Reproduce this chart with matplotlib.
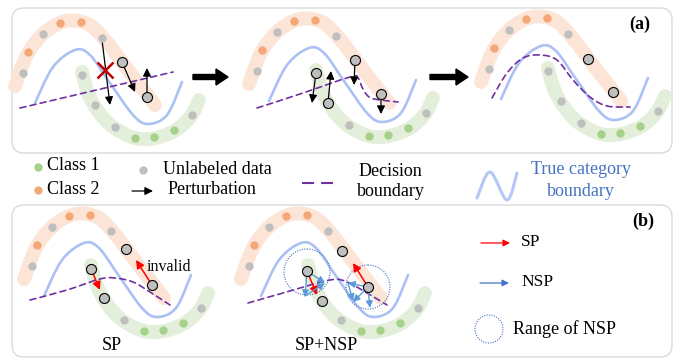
import numpy as np
import matplotlib
matplotlib.use("Agg")
import matplotlib.pyplot as plt
from matplotlib.path import Path
from matplotlib.patches import PathPatch, FancyBboxPatch, FancyArrow, Circle

plt.rcParams['font.family'] = ['Liberation Serif', 'DejaVu Serif']

# --- template shape (pixel coords of the first sub-diagram) ---
orange_band = [(15, 86), (27, 55), (44, 33), (66, 21), (88, 24), (105, 40), (128, 70), (155, 105)]
green_band = [(82, 72), (88, 93), (98, 111), (113, 127), (135, 138), (155, 138), (176, 130), (191, 116), (199, 100)]
true_boundary = [(35, 103), (53, 67), (75, 50), (90, 55), (110, 83), (133, 115), (148, 124), (167, 115), (182, 82)]
class1_dots = [(135, 138), (154, 137), (174, 130)]
class2_dots = [(28, 52), (60, 23), (81, 22)]
unlabeled_dots = [(43, 34), (23, 73), (102, 38), (115, 127), (192, 115)]

# offsets of each sub-diagram: a1, a2, a3, b1, b2
offsets = {'a1': (0, 0), 'a2': (234, -2), 'a3': (466, -4), 'b1': (9, 193), 'b2': (226, 193)}

# decision boundary of each sub-diagram
decision = {
    'a1': [(20, 108), (173, 72)],
    'a2': [(257, 108), (300, 94), (350, 77), (358, 78), (362, 87), (367, 95), (374, 99), (398, 102)],
    'a3': [(492, 98), (507, 73), (523, 58), (540, 55), (557, 60), (573, 80), (590, 97), (607, 106), (630, 107)],
    'b1': [(30, 300), (67, 290), (100, 279), (115, 278), (133, 282), (150, 292), (170, 305)],
    'b2': [(248, 303), (283, 293), (330, 280), (347, 282), (367, 293), (387, 305)],
}
# extra plain unlabeled points (absolute)
extra_gray = {'a1': [(82, 75), (95, 105)], 'a3': [(548, 71), (561, 101)]}
# highlighted unlabeled points (absolute)
highlighted = {
    'a1': [(122, 62), (147, 97)],
    'a2': [(316, 73), (328, 103), (355, 60), (381, 94)],
    'a3': [(588, 59), (613, 92)],
    'b1': [(126, 249), (152, 285), (91, 269), (104, 298)],
    'b2': [(342, 251), (368, 287), (307, 271), (322, 301)],
}
# perturbation arrows (start, end)
perturb_arrows = [((102, 40), (110, 105)), ((122, 62), (135, 92)), ((147, 97), (147, 68)),
                  ((316, 73), (312, 103)), ((328, 103), (331, 71)), ((355, 60), (354, 85)),
                  ((381, 94), (381, 114))]
sp_arrows = [((91, 269), (100, 290)), ((152, 285), (136, 260)),
             ((307, 271), (317, 295)), ((368, 287), (353, 263))]
nsp_arrows = [((307, 271), (325, 283)), ((307, 271), (305, 297)), ((305, 296), (325, 283)),
              ((368, 287), (348, 283)), ((368, 287), (353, 302)), ((368, 287), (370, 308)),
              ((348, 283), (353, 301))]
nsp_ranges = [((307, 272), 23), ((368, 287), 22)]
big_arrows = [((193, 77), (228, 77)), ((430, 77), (468, 77))]

ORANGE = '#f4a878'
GREEN = '#a5d18a'
GRAY = '#bfbfbf'
BAND_O = '#fce4d6'
BAND_G = '#e3efda'
BLUE_C = '#abc1f5'
PURPLE = '#7030a0'
NSP_BLUE = '#5b9bd5'
TXT_BLUE = '#4472c4'


def smooth(points):
    p = np.asarray(points, float)
    if len(p) == 2:
        return Path(p, [Path.MOVETO, Path.LINETO])
    ext = np.vstack([p[0], p, p[-1]])
    verts = [p[0]]
    codes = [Path.MOVETO]
    for i in range(1, len(ext) - 2):
        p0, p1, p2, p3 = ext[i - 1], ext[i], ext[i + 1], ext[i + 2]
        verts += [p1 + (p2 - p0) / 6, p2 - (p3 - p1) / 6, p2]
        codes += [Path.CURVE4] * 3
    return Path(verts, codes)


def shifted(points, off):
    return [(x + off[0], y + off[1]) for x, y in points]


def curve(ax, pts, **kw):
    patch = PathPatch(smooth(pts), fill=False, **kw)
    patch.set_capstyle('round')
    patch.set_joinstyle('round')
    ax.add_patch(patch)


def arrow(ax, start, end, color='black', lw=0.9, ms=12, z=5):
    ax.annotate('', xy=end, xytext=start,
                arrowprops=dict(arrowstyle='-|>', color=color, lw=lw, mutation_scale=ms,
                                shrinkA=0, shrinkB=0), zorder=z)


def dots(ax, pts, color, s=36, **kw):
    if not pts:
        return
    xy = np.array(pts)
    ax.scatter(xy[:, 0], xy[:, 1], s=s, c=color, linewidths=0, zorder=6, **kw)


fig = plt.figure(figsize=(6.76, 3.58), dpi=100)
ax = fig.add_axes([0, 0, 1, 1])
ax.set_xlim(0, 676)
ax.set_ylim(358, 0)
ax.axis('off')

# panel boxes
for (x0, y0, w, h) in [(12, 8, 660, 145), (12, 205, 660, 152)]:
    ax.add_patch(FancyBboxPatch((x0, y0), w, h, boxstyle='round,pad=0,rounding_size=12',
                                fc='white', ec='#dadada', lw=1, zorder=0))

for key, off in offsets.items():
    curve(ax, shifted(orange_band, off), color=BAND_O, lw=10, zorder=1)
    curve(ax, shifted(green_band, off), color=BAND_G, lw=10, zorder=1)
    curve(ax, shifted(true_boundary, off), color=BLUE_C, lw=1.9, zorder=2)
    curve(ax, decision[key], color=PURPLE, lw=1.2, linestyle=(0, (3.6, 2.6)), zorder=3)
    dots(ax, shifted(class1_dots, off), GREEN)
    dots(ax, shifted(class2_dots, off), ORANGE)
    dots(ax, shifted(unlabeled_dots, off) + extra_gray.get(key, []), GRAY)
    hx = np.array(highlighted[key])
    ax.scatter(hx[:, 0], hx[:, 1], s=52, c=GRAY, edgecolors='black', linewidths=0.8, zorder=7)

for s, e in perturb_arrows:
    arrow(ax, s, e)
for s, e in sp_arrows:
    arrow(ax, s, e, color='red', lw=1.1)
for s, e in nsp_arrows:
    arrow(ax, s, e, color=NSP_BLUE, lw=1.0, ms=10)
for c, r in nsp_ranges:
    ax.add_patch(Circle(c, r, fill=False, ec=TXT_BLUE, lw=0.8, ls=(0, (1, 1.2)), zorder=4))
for s, e in big_arrows:
    ax.add_patch(FancyArrow(s[0], s[1], e[0] - s[0], e[1] - s[1], width=5, head_width=16,
                            head_length=12, length_includes_head=True, color='black', zorder=5))

# red cross (invalid perturbation)
ax.plot([105], [70], marker='x', ms=11, mew=1.8, color='#c00000', zorder=8)

# texts
fs = 13
ax.text(640, 24, '(a)', fontsize=fs, fontweight='bold', ha='center', va='center')
ax.text(643, 221, '(b)', fontsize=fs, fontweight='bold', ha='center', va='center')
ax.text(147, 267, 'invalid', fontsize=11.5, ha='left', va='center')
ax.text(112, 346, 'SP', fontsize=fs, ha='center', va='center')
ax.text(326, 346, 'SP+NSP', fontsize=fs, ha='center', va='center')

# legend row
dots(ax, [(38, 167)], GREEN)
dots(ax, [(38, 190)], ORANGE)
dots(ax, [(143, 170)], GRAY)
ax.text(47, 166, 'Class 1', fontsize=fs, va='center')
ax.text(47, 189, 'Class 2', fontsize=fs, va='center')
ax.text(163, 169, 'Unlabeled data', fontsize=fs, va='center')
arrow(ax, (132, 191), (153, 191))
ax.text(168, 190, 'Perturbation', fontsize=fs, va='center')
ax.plot([302, 333], [183, 183], color=PURPLE, lw=1.5, dashes=(5.8, 3.4))
ax.text(390, 171, 'Decision', fontsize=fs, ha='center', va='center')
ax.text(391, 192, 'boundary', fontsize=fs, ha='center', va='center')
curve(ax, [(477, 198), (490, 172), (507, 200), (517, 173)], color='#b4c8f7', lw=2.2, zorder=2)
ax.text(581, 170, 'True category', fontsize=fs, ha='center', va='center', color=TXT_BLUE)
ax.text(581, 192, 'boundary', fontsize=fs, ha='center', va='center', color=TXT_BLUE)

# panel (b) legend
arrow(ax, (481, 243), (510, 243), color='red', lw=0.9, ms=10)
ax.text(521, 242, 'SP', fontsize=12.5, va='center')
arrow(ax, (480, 283), (509, 283), color=TXT_BLUE, lw=0.9, ms=10)
ax.text(521, 282, 'NSP', fontsize=12.5, va='center')
ax.add_patch(Circle((489, 329), 14, fill=False, ec=TXT_BLUE, lw=0.8, ls=(0, (1, 1.2))))
ax.text(513, 329, 'Range of NSP', fontsize=fs, va='center')

fig.savefig('out.png', dpi=100)
